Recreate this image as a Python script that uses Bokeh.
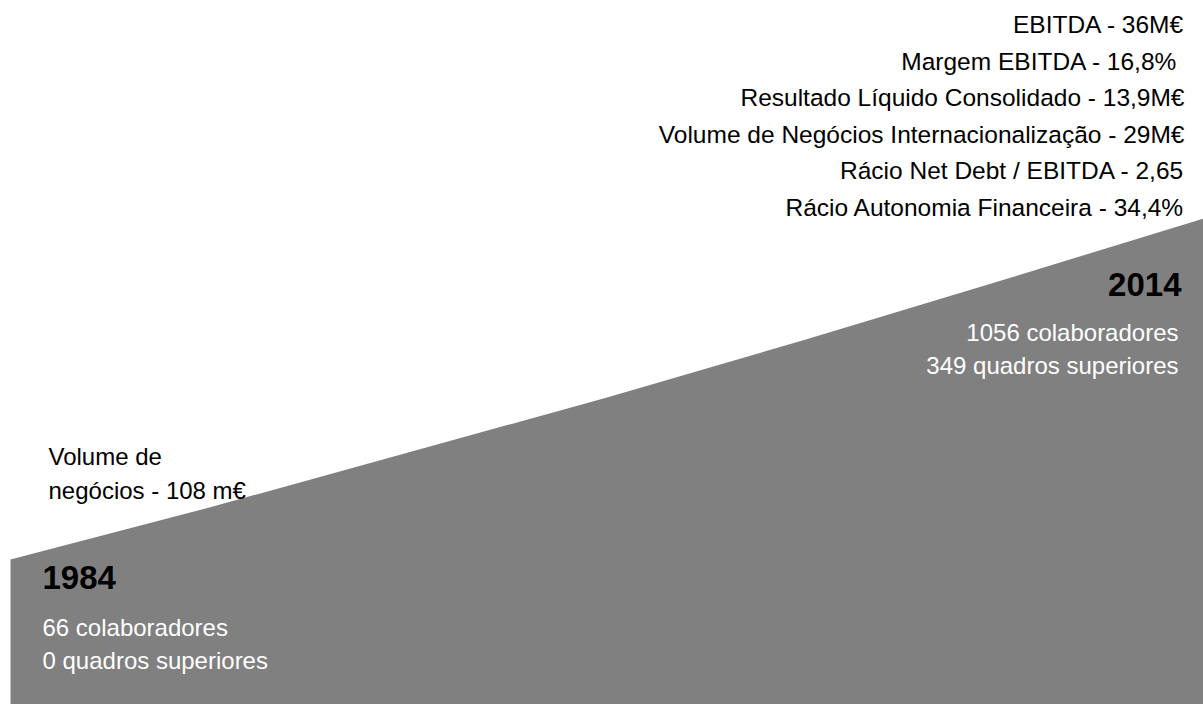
from bokeh.plotting import figure
from bokeh.models import Range1d, Label
from bokeh.embed import file_html
from bokeh.resources import INLINE

# ---- data ----
years = [1984, 1989, 1994, 1999, 2004, 2009, 2014]
growth = [145, 197, 252, 307, 365, 425, 486]

metrics_2014 = [
    "EBITDA - 36M€",
    "Margem  EBITDA - 16,8%",
    "Resultado Líquido Consolidado - 13,9M€",
    "Volume de Negócios Internacionalização - 29M€",
    "Rácio Net Debt / EBITDA - 2,65",
    "Rácio Autonomia Financeira - 34,4%",
]
start_turnover = ["Volume de", "negócios - 108 m€"]
year_labels = ["1984", "2014"]
staff_1984 = ["66 colaboradores", "0 quadros superiores"]
staff_2014 = ["1056 colaboradores", "349 quadros superiores"]

FONT = "Liberation Sans"
GRAY = "#808080"
W, H = 1203, 704

p = figure(width=W, height=H, output_backend="svg", toolbar_location=None,
           x_axis_location=None, y_axis_location=None, min_border=0,
           x_range=Range1d(0, W), y_range=Range1d(H, 0))
p.outline_line_color = None
p.xgrid.visible = False
p.ygrid.visible = False
p.background_fill_color = "white"
p.border_fill_color = "white"

px_per_year = 1193 / 30
x0 = 1984 - 10 / px_per_year
p.extra_x_ranges = {"yr": Range1d(x0, x0 + W / px_per_year)}
p.extra_y_ranges = {"h": Range1d(0, H)}

p.varea(x=years, y1=[0] * len(years), y2=growth, x_range_name="yr", y_range_name="h",
        fill_color=GRAY, fill_alpha=1.0)

def lab(x, y, t, align="left", size="24px", color="black", bold=False):
    p.add_layout(Label(x=x, y=y, text=t, text_align=align, text_baseline="middle",
                       text_font=FONT, text_font_size=size, text_color=color,
                       text_font_style="bold" if bold else "normal"))

for i, t in enumerate(metrics_2014):
    lab(1184, 24 + i * 36.6, t, align="right", size="24.5px")

for i, t in enumerate(start_turnover):
    lab(48, 456 + i * 34, t, size="24px")

lab(42, 577, year_labels[0], size="33px", bold=True)
for i, t in enumerate(staff_1984):
    lab(42, 627 + i * 33, t, size="24px", color="white")

lab(1181, 284, year_labels[1], size="33px", align="right", bold=True)
for i, t in enumerate(staff_2014):
    lab(1178, 332 + i * 33, t, size="24px", align="right", color="white")

open("out.html", "w").write(file_html(p, INLINE))
